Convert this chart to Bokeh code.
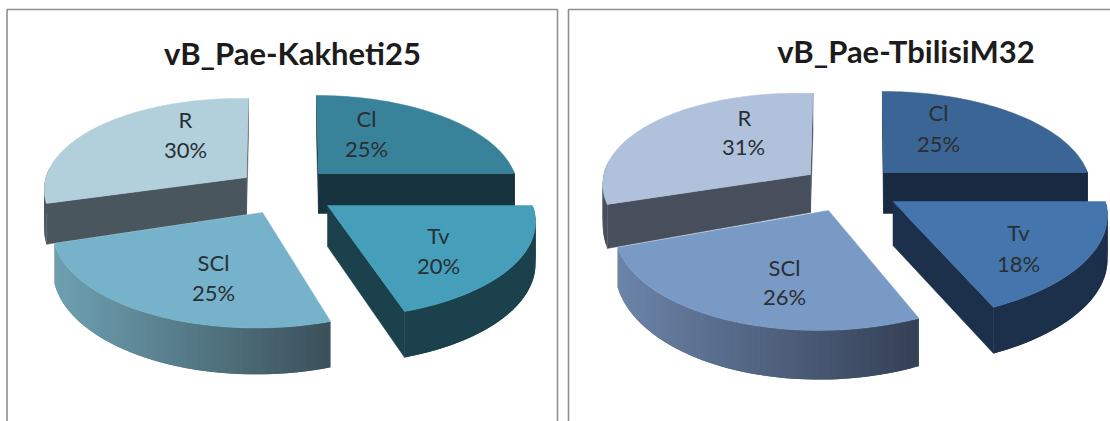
from math import cos, sin, radians

from bokeh.core.properties import value
from bokeh.embed import file_html
from bokeh.layouts import row
from bokeh.models import Range1d
from bokeh.plotting import figure
from bokeh.resources import INLINE

# Category shares, in clockwise drawing order from twelve o'clock
categories = ["Cl", "Tv", "SCl", "R"]
kakheti_shares = [25, 20, 25, 30]
tbilisi_shares = [25, 18, 26, 31]
kakheti_title = "vB_Pae-Kakheti25"
tbilisi_title = "vB_Pae-TbilisiM32"

# Perspective strength of the tilted disc
PERSPECTIVE = 0.16

# Per-slice projection: apex x, apex y, rx, ry, x skew, y skew, depth, depth growth
KAKHETI_GEOM = {
    "Cl": (318, 173, 196, 90.5, 2.3, 0, 40, 0.05),
    "Tv": (327, 205, 205, 94.5, 2.1, 0, 41, 0.047),
    "SCl": (262, 212, 205.9, 97, -6.2, 0.5, 37.5, 0.077),
    "R": (246, 177, 199.3, 91.6, -2.3, 3.8, 37, 0.15),
}
TBILISI_GEOM = {
    "Cl": (883, 172, 204, 94, 1.2, 0, 41, 0.05),
    "Tv": (892.5, 201, 212.5, 100, -5, 0, 44, 0.02),
    "SCl": (828, 210, 208.4, 100.7, -12.6, 2.5, 36, 0.11),
    "R": (810, 174, 204.6, 94, -2.9, 6.9, 38, 0.2),
}

# Per-slice colours: top, cut face, wall at the left, wall at the right
KAKHETI_COLORS = {
    "Cl": ("#38839a", "#17333e", "#17333e", "#17333e"),
    "Tv": ("#459fba", "#1b414c", "#1b414c", "#1b414c"),
    "SCl": ("#76b3cb", "#1b414c", "#6ea0b1", "#3a4f59"),
    "R": ("#b2d0dc", "#4a565d", "#4a565d", "#4a565d"),
}
TBILISI_COLORS = {
    "Cl": ("#3a6594", "#182a42", "#182a42", "#182a42"),
    "Tv": ("#4475ad", "#1c2f4b", "#1c2f4b", "#1c2f4b"),
    "SCl": ("#7a9ac6", "#1c2f4b", "#6b84a8", "#333f54"),
    "R": ("#b0c1dc", "#484f5c", "#484f5c", "#484f5c"),
}

# Label anchors: name position, percentage position
KAKHETI_LABELS = {
    "Cl": ((366, 118), (366, 148)),
    "Tv": ((438, 235), (438, 265)),
    "SCl": ((213, 262), (213, 292)),
    "R": ((185, 119), (185, 149)),
}
TBILISI_LABELS = {
    "Cl": ((938, 112), (938, 143)),
    "Tv": ((1018, 232), (1018, 263)),
    "SCl": ((784, 267), (784, 296)),
    "R": ((744, 117), (743, 146)),
}

PAINT_ORDER = ["R", "Cl", "SCl", "Tv"]
TEXT_FONT = "Lato"
LABEL_COLOR = "#2a2f33"
FRAME_COLOR = "#8f8f8f"


def mix(c1, c2, t):
    a = [int(c1[i:i + 2], 16) for i in (1, 3, 5)]
    b = [int(c2[i:i + 2], 16) for i in (1, 3, 5)]
    return "#%02x%02x%02x" % tuple(round(u + (v - u) * t) for u, v in zip(a, b))


def slice_spans(shares):
    """Start and end angle of every slice; angles run clockwise on screen from 3 o'clock."""
    total = sum(shares)
    start = -90.0
    spans = {}
    for name, share in zip(categories, shares):
        end = start + 360.0 * share / total
        spans[name] = (start, end)
        start = end
    return spans


def draw_slice(p, geom, colors, start, end):
    cx, cy, rx, ry, sx, sy, depth, growth = geom
    top, face, wall_l, wall_r = colors

    def rim(deg):
        a = radians(deg)
        scale = 1 - PERSPECTIVE * sin(a)
        return (cx + (rx * cos(a) + sx * sin(a)) / scale,
                cy + (ry * sin(a) + sy * cos(a)) / scale)

    def drop(y):
        return depth + growth * max(0.0, y - cy)

    steps = max(4, int((end - start) / 1.5))
    angles = [start + (end - start) * i / steps for i in range(steps + 1)]
    pts = [rim(d) for d in angles]

    # Cut faces that turn toward the viewer
    mx, my = rim((start + end) / 2)
    mx, my = mx - cx, my - cy
    for ex, ey in (pts[0], pts[-1]):
        vx, vy = ex - cx, ey - cy
        nx, ny = vy, -vx
        if nx * mx + ny * my > 0:
            nx, ny = -nx, -ny
        if ny > 0:
            p.patch([cx, ex, ex, cx], [cy, ey, ey + drop(ey), cy + depth],
                    fill_color=face, line_color=face, line_width=0.5)

    # Outer wall, shaded from left to right; each strip overlaps the next one
    xs_min = min(x for x, _ in pts)
    xs_max = max(x for x, _ in pts)
    for i in range(steps):
        if sin(radians((angles[i] + angles[i + 1]) / 2)) < -0.05:
            continue
        j = min(i + 2, steps)
        (x0, y0), (x1, y1) = pts[i], pts[j]
        shade = mix(wall_l, wall_r, ((x0 + x1) / 2 - xs_min) / (xs_max - xs_min))
        p.patch([x0, x1, x1, x0], [y0, y1, y1 + drop(y1), y0 + drop(y0)],
                fill_color=shade, line_color=None)

    # Top surface
    p.patch([cx] + [x for x, _ in pts], [cy] + [y for _, y in pts],
            fill_color=top, line_color=top, line_width=0.5)


def draw_text(p, x, y, text, size, style="normal", color=LABEL_COLOR):
    p.text([x], [y], text=[text], text_font=value(TEXT_FONT), text_font_size=size,
           text_font_style=style, text_color=color, text_align="center",
           text_baseline="middle")


def make_panel(x0, x1, shares, geometry, palette, labels, title, title_xy, frame):
    p = figure(width=x1 - x0, height=421, x_range=Range1d(x0, x1), y_range=Range1d(421, 0),
               output_backend="svg", toolbar_location=None, min_border=0,
               background_fill_color="white", border_fill_color="white",
               outline_line_color=None)
    p.axis.visible = False
    p.grid.visible = False

    p.line(frame[0], frame[1], line_color=FRAME_COLOR, line_width=1.6)

    spans = slice_spans(shares)
    for name in PAINT_ORDER:
        draw_slice(p, geometry[name], palette[name], *spans[name])

    for name, share in zip(categories, shares):
        (nx, ny), (vx, vy) = labels[name]
        draw_text(p, nx, ny, name, "22px")
        draw_text(p, vx, vy, f"{share}%", "22px")

    draw_text(p, title_xy[0], title_xy[1], title, "31px", "bold", "#1c1c1c")
    return p


left = make_panel(0, 562, kakheti_shares, KAKHETI_GEOM, KAKHETI_COLORS, KAKHETI_LABELS,
                  kakheti_title, (292, 52), ([6.5, 6.5, 557, 557], [421, 9, 9, 421]))
right = make_panel(562, 1110, tbilisi_shares, TBILISI_GEOM, TBILISI_COLORS, TBILISI_LABELS,
                   tbilisi_title, (905.5, 50), ([568, 568, 1110], [421, 9, 9]))

layout = row(left, right, spacing=0)
open("out.html", "w").write(file_html(layout, INLINE))
